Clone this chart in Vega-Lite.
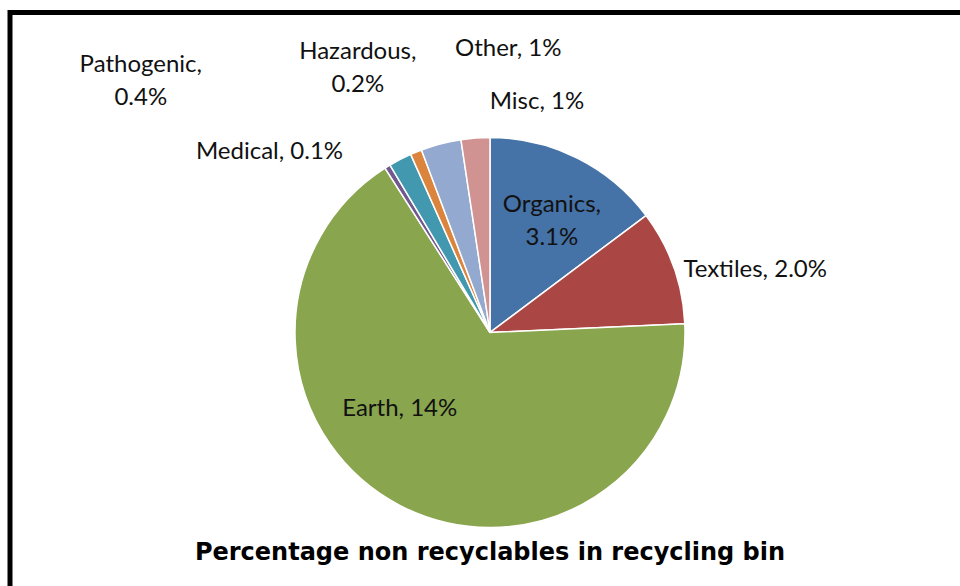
{
  "$schema": "https://vega.github.io/schema/vega-lite/v6.json",
  "autosize": {"type": "none"},
  "width": 960,
  "height": 640,
  "padding": {"left": 10, "top": 12.5, "right": -10, "bottom": -66.5},
  "background": "white",
  "view": {"stroke": "black", "strokeWidth": 5, "fill": "white"},
  "config": {
    "view": {"stroke": "black", "strokeWidth": 5},
    "text": {"font": "Lato", "fontSize": 24, "fill": "#111111", "baseline": "middle", "lineBreak": "\n", "lineHeight": 33}
  },
  "title": {
    "text": "Percentage non recyclables in recycling bin",
    "orient": "bottom",
    "frame": "group",
    "anchor": "middle",
    "baseline": "alphabetic",
    "offset": -92.5,
    "font": "DejaVu Sans",
    "fontSize": 24,
    "fontWeight": "bold",
    "color": "#000000"
  },
  "data": {
    "values": [
      {"category": "Organics", "value": 3.1, "rank": 1, "label": "Organics,\n3.1%"},
      {"category": "Textiles", "value": 2.0, "rank": 2, "label": "Textiles, 2.0%"},
      {"category": "Earth", "value": 14, "rank": 3, "label": "Earth, 14%"},
      {"category": "Medical", "value": 0.1, "rank": 4, "label": "Medical, 0.1%"},
      {"category": "Pathogenic", "value": 0.4, "rank": 5, "label": "Pathogenic,\n0.4%"},
      {"category": "Hazardous", "value": 0.2, "rank": 6, "label": "Hazardous,\n0.2%"},
      {"category": "Other", "value": 0.7, "rank": 7, "label": "Other, 1%"},
      {"category": "Misc", "value": 0.5, "rank": 8, "label": "Misc, 1%"}
    ]
  },
  "encoding": {
    "theta": {"field": "value", "type": "quantitative", "stack": true},
    "order": {"field": "rank", "type": "quantitative"},
    "detail": {"field": "category", "type": "nominal"}
  },
  "layer": [
    {
      "mark": {"type": "arc", "outerRadius": 195, "stroke": "white", "strokeWidth": 1.5},
      "encoding": {
        "color": {
          "field": "category",
          "type": "nominal",
          "legend": null,
          "scale": {
            "domain": ["Organics", "Textiles", "Earth", "Medical", "Pathogenic", "Hazardous", "Other", "Misc"],
            "range": ["#4572A7", "#AA4643", "#89A54E", "#71588F", "#4198AF", "#DB843D", "#93A9CF", "#D19392"]
          }
        }
      }
    },
    {
      "mark": {"type": "text", "radius": 125, "dx": 6, "dy": -16, "align": "center"},
      "encoding": {"text": {"condition": {"test": "datum.category === 'Organics'", "field": "label"}, "value": ""}}
    },
    {
      "mark": {"type": "text", "radius": 215, "dx": -9, "dy": 10, "align": "left"},
      "encoding": {"text": {"condition": {"test": "datum.category === 'Textiles'", "field": "label"}, "value": ""}}
    },
    {
      "mark": {"type": "text", "radius": 120, "dx": -35, "dy": -30, "align": "center"},
      "encoding": {"text": {"condition": {"test": "datum.category === 'Earth'", "field": "label"}, "value": ""}}
    },
    {
      "mark": {"type": "text", "radius": 230, "dx": -26, "dy": 15, "align": "right"},
      "encoding": {"text": {"condition": {"test": "datum.category === 'Medical'", "field": "label"}, "value": ""}}
    },
    {
      "mark": {"type": "text", "radius": 300, "dx": -211, "dy": -1, "align": "center"},
      "encoding": {"text": {"condition": {"test": "datum.category === 'Pathogenic'", "field": "label"}, "value": ""}}
    },
    {
      "mark": {"type": "text", "radius": 280, "dx": -26, "dy": -21, "align": "center"},
      "encoding": {"text": {"condition": {"test": "datum.category === 'Hazardous'", "field": "label"}, "value": ""}}
    },
    {
      "mark": {"type": "text", "radius": 290, "dx": 38, "dy": -3, "align": "left"},
      "encoding": {"text": {"condition": {"test": "datum.category === 'Other'", "field": "label"}, "value": ""}}
    },
    {
      "mark": {"type": "text", "radius": 232, "dx": 17, "dy": 1, "align": "left"},
      "encoding": {"text": {"condition": {"test": "datum.category === 'Misc'", "field": "label"}, "value": ""}}
    }
  ]
}
